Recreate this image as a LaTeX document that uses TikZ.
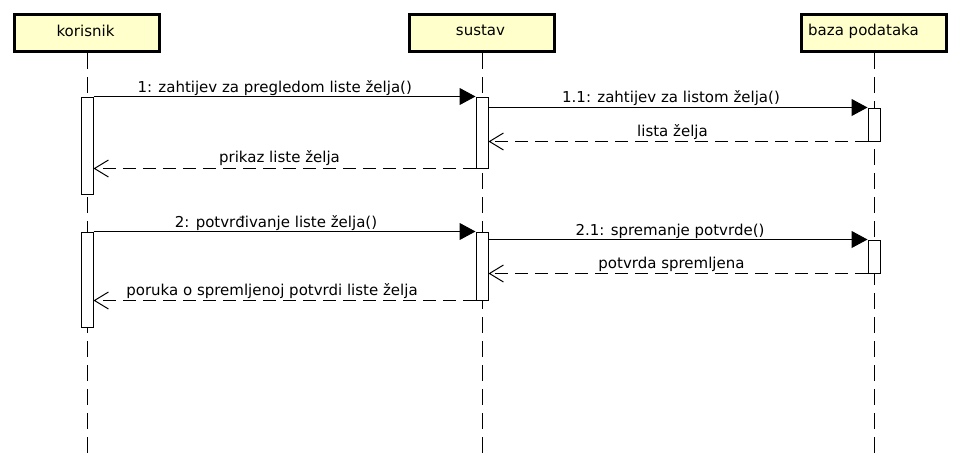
\documentclass[tikz,border=0pt]{standalone}
\usepackage{fontspec}
\setmainfont{DejaVu Sans}
\usetikzlibrary{arrows.meta}
\definecolor{boxfill}{HTML}{FFFFCC}
\begin{document}
\begin{tikzpicture}[x=1pt,y=-1pt,
  font=\fontsize{15}{18}\selectfont,
  headbox/.style={draw, line width=3pt, fill=boxfill, minimum width=145pt, minimum height=37pt, inner sep=0pt},
  headtxt/.style={anchor=base, inner sep=0pt},
  lifeline/.style={draw, line width=1pt, dash pattern=on 16pt off 8pt},
  actbox/.style={draw, line width=1pt, fill=white, minimum width=12pt, inner sep=0pt},
  msg/.style={draw, line width=1pt, -{Triangle[length=16pt,width=17pt]}},
  ret/.style={draw, line width=1pt, dash pattern=on 13pt off 7pt, -{Straight Barb[length=14pt,width=17pt]}},
  lbl/.style={anchor=base, inner sep=0pt}]
\useasboundingbox (0,0) rectangle (960,466);

% heads
\node[headbox] (kor) at (87,33) {};
\node[headbox] (sus) at (481.5,33) {};
\node[headbox] (baz) at (873.5,33) {};
\node[headtxt] (korT) at (85.5,36) {korisnik};
\node[headtxt] (susT) at (480.5,35.5) {sustav};
\node[headtxt] (bazT) at (863.5,35.5) {baza podataka};

% lifeline ends
\coordinate (korE) at (87,453);
\coordinate (susE) at (482,453);
\coordinate (bazE) at (874,453);
\draw[lifeline] (87,53) -- (korE);
\draw[lifeline] (482,53) -- (susE);
\draw[lifeline] (874,53) -- (bazE);

% activations
\node[actbox, minimum height=97pt] (kA1) at (87,145.5) {};
\node[actbox, minimum height=71pt] (sA1) at (482,132.5) {};
\node[actbox, minimum height=33pt] (bA1) at (874,124.5) {};
\node[actbox, minimum height=95pt] (kA2) at (87,279.5) {};
\node[actbox, minimum height=68pt] (sA2) at (482,266) {};
\node[actbox, minimum height=33pt] (bA2) at (874,256.5) {};

% messages
\draw[msg] (kA1.north east) -- (sA1.north west);
\draw[msg] (sA1.east |- bA1.north) -- (bA1.north west);
\draw[ret] (bA1.south west) -- (sA1.east |- bA1.south);
\draw[ret] (sA1.south west) -- (kA1.east |- sA1.south);
\draw[msg] (kA2.north east) -- (sA2.north west);
\draw[msg] (sA2.east |- bA2.north) -- (bA2.north west);
\draw[ret] (bA2.south west) -- (sA2.east |- bA2.south);
\draw[ret] (sA2.south west) -- (kA2.east |- sA2.south);

% labels
\node[lbl] (l1) at (274.7,92) {1: zahtijev za pregledom liste želja()};
\node[lbl] (l11) at (671,102) {1.1: zahtijev za listom želja()};
\node[lbl] (lr1) at (672.5,136) {lista želja};
\node[lbl] (lr2) at (279.5,162) {prikaz liste želja};
\node[lbl] (l2) at (276,227) {2: potvrđivanje liste želja()};
\node[lbl] (l21) at (670,235) {2.1: spremanje potvrde()};
\node[lbl] (lr3) at (671.5,268) {potvrda spremljena};
\node[lbl] (lr4) at (272,295) {poruka o spremljenoj potvrdi liste želja};
\end{tikzpicture}
\end{document}
